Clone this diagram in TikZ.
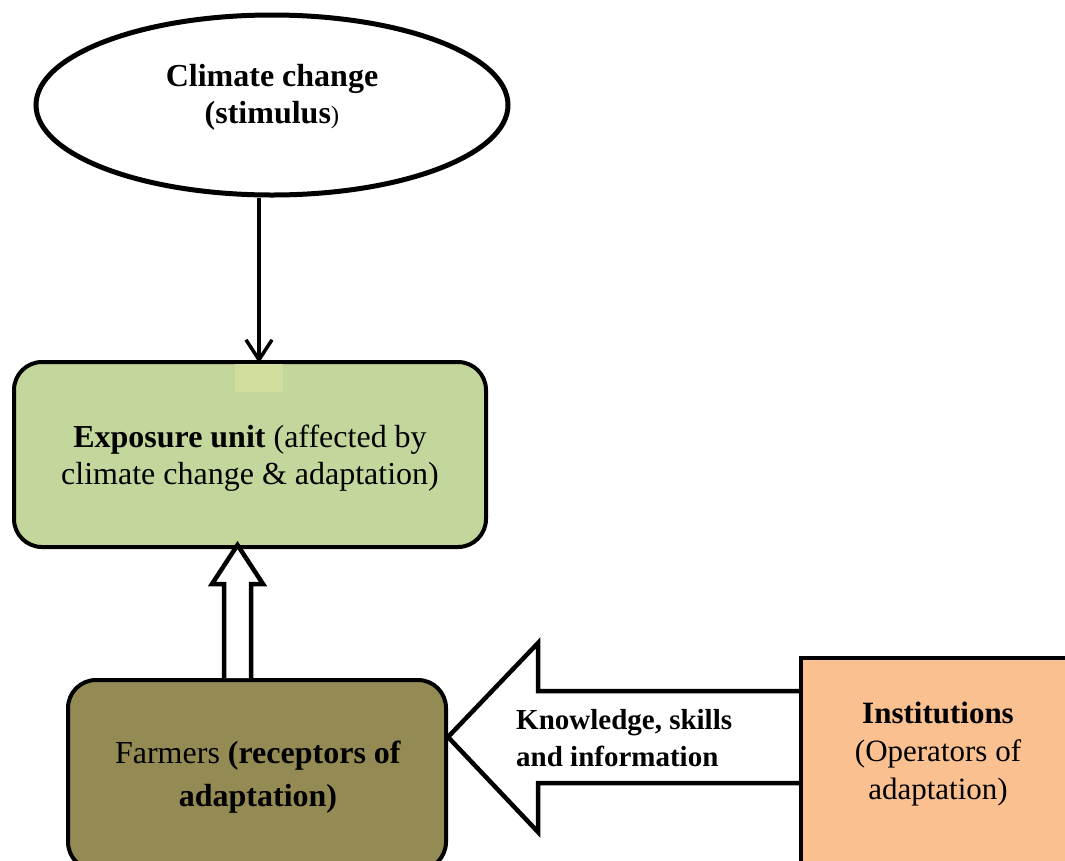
\documentclass[tikz,border=0pt]{standalone}
\usepackage{fontspec}
\setmainfont{Liberation Serif}
\usetikzlibrary{shapes.geometric,arrows.meta,calc}
\definecolor{expgreen}{HTML}{C3D69B}
\definecolor{patchgreen}{HTML}{D0DD9C}
\definecolor{farmolive}{HTML}{948A54}
\definecolor{instorange}{HTML}{FAC090}
\begin{document}
\begin{tikzpicture}[x=1pt,y=-1pt,
  txt/.style={font=\fontsize{32}{37}\selectfont, align=center, inner sep=0pt},
  box/.style={draw, line width=4pt, rounded corners=28pt, inner sep=0pt},
  hollow/.style={draw, line width=4.5pt, fill=white, line join=miter},
  thinarrow/.style={draw, line width=3.5pt, -{Straight Barb[length=20pt,width=26pt]}},
]
\useasboundingbox (0,0) rectangle (1065,860);
% climate change ellipse
\node[ellipse, draw, line width=5pt, minimum width=472pt, minimum height=180pt, inner sep=0pt] (ell) at (272,105) {};
\node[txt] (elltxt) at (272,97) {\textbf{Climate change}\\\textbf{(stimulus}{\fontsize{25}{37}\selectfont)}};
% exposure unit
\node[box, fill=expgreen, minimum width=472pt, minimum height=185pt] (exp) at (250,454.5) {};
\node[txt] (exptxt) at (250,458.5) {\textbf{Exposure unit} (affected by\\climate change \& adaptation)};
\fill[patchgreen] (235,364) rectangle (283,392);
\draw[thinarrow] ($(ell.south)+(-13,0)$) -- ($(exp.north)+(9,3)$);
% farmers
\node[box, fill=farmolive, minimum width=378pt, minimum height=190pt] (fa) at (257,775) {};
\node[txt, font=\fontsize{32}{43}\selectfont] (fatxt) at (258,777) {Farmers \textbf{(receptors of}\\\textbf{adaptation)}};
% hollow up arrow
\draw[hollow] ($(fa.north)+(-33,0)$) -- ($(fa.north)+(-33,-94)$) -- ($(fa.north)+(-45,-94)$)
  -- ($(exp.south)+(-12.5,-4)$) -- ($(fa.north)+(6,-94)$) -- ($(fa.north)+(-6,-94)$) -- ($(fa.north)+(-6,0)$);
% institutions
\node[draw, line width=4.5pt, fill=instorange, minimum width=278pt, minimum height=234pt, inner sep=0pt] (inst) at (940,775) {};
\node[txt, font=\fontsize{31}{38}\selectfont] (insttxt) at (938,754) {\textbf{Institutions}\\(Operators of\\adaptation)};
% big hollow left arrow
\draw[hollow] ($(inst.west)+(0,-84)$) -- ($(fa.east)+(90,-84)$) -- ($(fa.east)+(90,-132)$)
  -- ($(fa.east)+(0,-38)$) -- ($(fa.east)+(90,57)$) -- ($(fa.east)+(90,8)$) -- ($(inst.west)+(0,8)$);
\node[font=\bfseries\fontsize{29}{37}\selectfont, align=left, anchor=west, inner sep=0pt] (know) at (516,738) {Knowledge, skills\\and information};
\end{tikzpicture}
\end{document}
